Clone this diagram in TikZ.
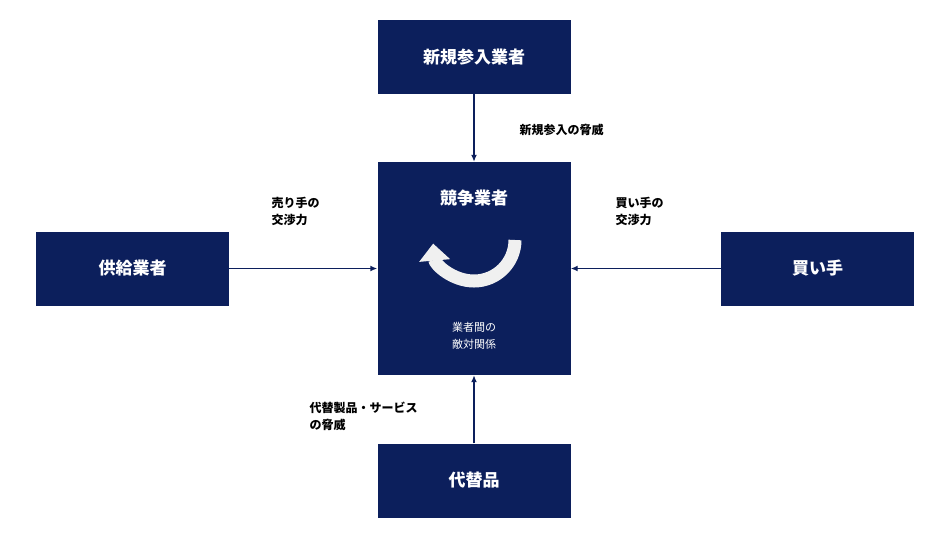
\documentclass[tikz,border=0pt]{standalone}
\usepackage{fontspec}
\setmainfont{Noto Sans CJK JP}
\usetikzlibrary{positioning,arrows.meta}
\definecolor{navy}{HTML}{0C1F5C}
\tikzset{
  force/.style={fill=navy,text=white,font=\bfseries\fontsize{17}{20}\selectfont,minimum width=193pt,minimum height=74pt,inner sep=0pt},
  pressure/.style={draw=navy,line width=1.5pt,-{Latex[length=7pt,width=6pt]}},
  note/.style={font=\bfseries\fontsize{12}{17}\selectfont,align=left,text=black}
}
\begin{document}
\begin{tikzpicture}[x=1pt,y=-1pt]
\useasboundingbox (0,0) rectangle (937,539);
\node[force] (entrant) at (474,57) {新規参入業者};
\node[force,minimum height=213pt] (rival) at (474,268.5) {};
\node[force] (supplier) at (132.5,268.5) {供給業者};
\node[force] (buyer) at (817.5,268.5) {買い手};
\node[force] (subst) at (474,480.5) {代替品};
\node[text=white,font=\bfseries\fontsize{17}{20}\selectfont] (rivaltitle) at (474,198) {競争業者};
\node[text=white,font=\fontsize{11}{17}\selectfont,align=center] (rivalnote) at (474,336) {業者間の\\敵対関係};
% curved arrow
\draw[white!88!gray,line width=13pt,-{Triangle[width=30pt,length=17pt]}] (515,240) arc (0:175:41);
\draw[pressure] (entrant) -- (rival);
\draw[pressure] (supplier) -- (rival);
\draw[pressure] (buyer) -- (rival);
\draw[pressure] (subst) -- (rival);
\node[note,anchor=west] (newthreat) at (516,130) {新規参入の脅威};
\node[note,anchor=west] (sellpower) at (268,211) {売り手の\\交渉力};
\node[note,anchor=west] (buypower) at (612,211) {買い手の\\交渉力};
\node[note,anchor=west] (substthreat) at (306,416) {代替製品・サービス\\の脅威};
\end{tikzpicture}
\end{document}
